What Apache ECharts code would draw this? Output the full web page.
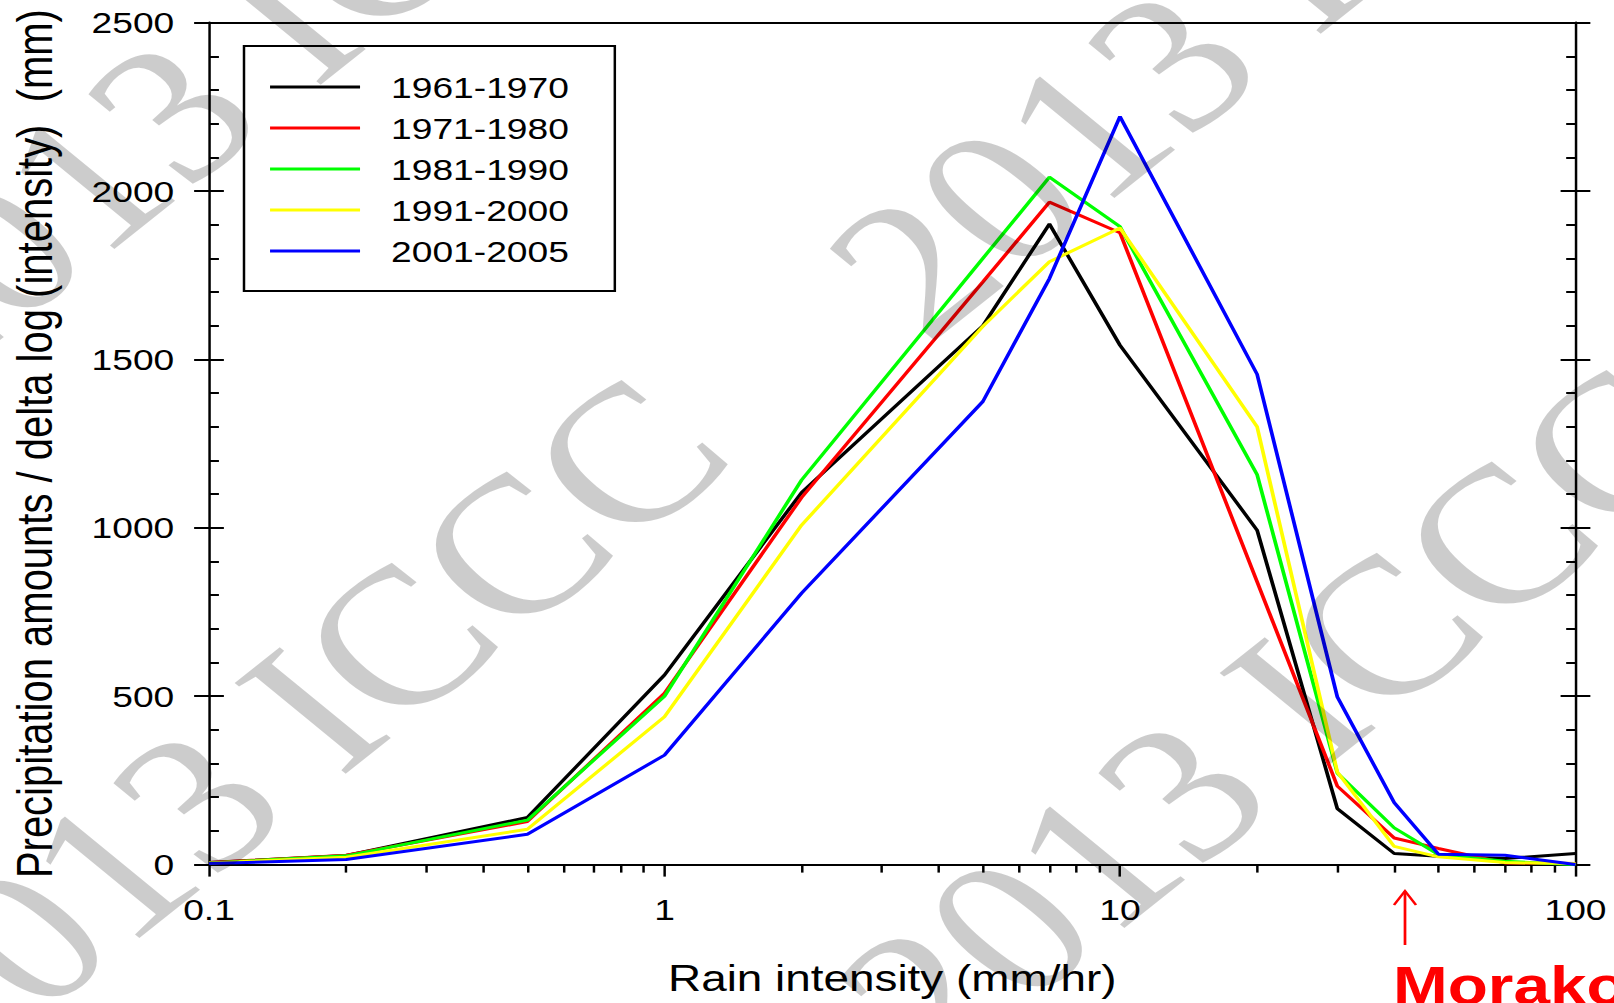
<!DOCTYPE html>
<html>
<head>
<meta charset="utf-8">
<title>Rain intensity distribution</title>
<script src="https://cdn.jsdelivr.net/npm/echarts@6/dist/echarts.min.js"></script>
<style>
  html, body { margin: 0; padding: 0; background: #fff; overflow: hidden; }
  /* the original figure is stretched sideways, so draw narrow and stretch */
  #main { width: 1301.6px; height: 1003px; transform: scaleX(1.24); transform-origin: 0 0; }
</style>
</head>
<body>
<div id="main"></div>
<script>
// rain intensity (mm/hr) and precipitation amount / delta log(intensity) (mm)
const intensity = [0.1, 0.2, 0.5, 1, 2, 5, 7, 10, 20, 30, 40, 50, 70, 100];
const d1961 = [6, 27, 140, 563, 1105, 1600, 1902, 1542, 993, 166, 33, 25, 18, 33];
const d1971 = [6, 28, 128, 509, 1090, 1730, 1967, 1876, 840, 233, 79, 48, 5, 3];
const d1981 = [5, 26, 132, 500, 1142, 1800, 2041, 1894, 1158, 272, 109, 30, 10, 0];
const d1991 = [5, 22, 105, 439, 1008, 1598, 1790, 1890, 1300, 275, 54, 23, 6, 3];
const d2001 = [3, 15, 90, 325, 806, 1375, 1740, 2221, 1456, 498, 184, 31, 28, 0];

const periods = ['1961-1970', '1971-1980', '1981-1990', '1991-2000', '2001-2005'];
const colors = ['#000000', '#ff0000', '#00ff00', '#ffff00', '#0000ff'];
const xTickLabels = ['0.1', '1', '10', '100'];
const xMinorMult = [2, 3, 4, 5, 6, 7, 8, 9];

const FONT = '"Liberation Sans", Arial, Helvetica, sans-serif';
const SERIF = '"Liberation Serif", "Times New Roman", serif';
const S = 1.24; // horizontal stretch of the page

// minor ticks of the log axis, in log10 space
const minorTicks = [];
[-1, 0, 1].forEach((p) => {
  xMinorMult.forEach((m) => minorTicks.push(Math.log10(m * Math.pow(10, p))));
});

const chart = echarts.init(document.getElementById('main'), null, { renderer: 'svg' });

const pair = (ys) => intensity.map((x, i) => [x, ys[i]]);
const seriesData = [d1961, d1971, d1981, d1991, d2001];

const watermark = (x, y) => ({
  type: 'text',
  x: x / S,
  y: y,
  rotation: 44.6 * Math.PI / 180,
  z: 100,
  silent: true,
  style: {
    text: '2013 ICCC',
    fontSize: 195,
    fontFamily: SERIF,
    fill: 'rgba(0,0,0,0.2)',
    align: 'left',
    verticalAlign: 'middle',
  },
});

const option = {
  animation: false,
  backgroundColor: '#fff',
  grid: {
    left: 209 / S,
    right: 39 / S,
    top: 22.6,
    bottom: 138.4,
    outerBoundsMode: 'none',
  },
  legend: {
    left: 244 / S,
    top: 46,
    orient: 'vertical',
    data: periods,
    icon: 'rect',
    itemWidth: 90 / S,
    itemHeight: 3,
    itemGap: 11,
    padding: [26, 37, 25, 21],
    borderColor: '#000',
    borderWidth: 2,
    textStyle: {
      fontFamily: FONT,
      fontSize: 30,
      lineHeight: 30,
      color: '#000',
      padding: [0, 0, 0, 20],
    },
  },
  xAxis: [
    {
      type: 'log',
      logBase: 10,
      min: 0.1,
      max: 100,
      position: 'bottom',
      name: 'Rain intensity (mm/hr)',
      nameLocation: 'middle',
      nameGap: 95,
      nameTextStyle: { fontFamily: FONT, fontSize: 37, color: '#000' },
      axisLine: { onZero: false, lineStyle: { color: '#000', width: 2 } },
      axisTick: { length: 12, lineStyle: { color: '#000', width: 2 } },
      axisLabel: {
        margin: 30,
        fontFamily: FONT,
        fontSize: 30,
        color: '#000',
        formatter: (v) => xTickLabels[Math.round(Math.log10(v)) + 1],
      },
      splitLine: { show: false },
    },
    {
      type: 'value',
      min: -1,
      max: 2,
      position: 'bottom',
      axisLine: { show: false, onZero: false },
      axisTick: {
        length: 8,
        customValues: minorTicks,
        lineStyle: { color: '#000', width: 2 },
      },
      axisLabel: { show: false },
      splitLine: { show: false },
    },
    {
      type: 'log',
      logBase: 10,
      min: 0.1,
      max: 100,
      position: 'top',
      axisLine: { onZero: false, lineStyle: { color: '#000', width: 2 } },
      axisTick: { show: false },
      axisLabel: { show: false },
      splitLine: { show: false },
    },
  ],
  yAxis: [
    {
      type: 'value',
      min: 0,
      max: 2500,
      interval: 500,
      position: 'left',
      name: 'Precipitation amounts / delta log (intensity)  (mm)',
      nameLocation: 'middle',
      nameGap: 120,
      nameTextStyle: { fontFamily: FONT, fontSize: 40, color: '#000' },
      axisLine: { show: true, onZero: false, lineStyle: { color: '#000', width: 2 } },
      axisTick: { inside: true, length: 12, lineStyle: { color: '#000', width: 2 } },
      minorTick: { show: true, splitNumber: 5, length: 8, lineStyle: { color: '#000', width: 2 } },
      axisLabel: {
        margin: 28,
        fontFamily: FONT,
        fontSize: 30,
        color: '#000',
        formatter: (v) => String(v),
      },
      splitLine: { show: false },
    },
    {
      type: 'value',
      min: 0,
      max: 2500,
      interval: 500,
      position: 'left',
      axisLine: { show: false, onZero: false },
      axisTick: { length: 12, lineStyle: { color: '#000', width: 2 } },
      axisLabel: { show: false },
      splitLine: { show: false },
    },
    {
      type: 'value',
      min: 0,
      max: 2500,
      interval: 500,
      position: 'right',
      axisLine: { show: true, onZero: false, lineStyle: { color: '#000', width: 2 } },
      axisTick: { inside: true, length: 12, lineStyle: { color: '#000', width: 2 } },
      minorTick: { show: true, splitNumber: 5, length: 7.5, lineStyle: { color: '#000', width: 2 } },
      axisLabel: { show: false },
      splitLine: { show: false },
    },
    {
      type: 'value',
      min: 0,
      max: 2500,
      interval: 500,
      position: 'right',
      axisLine: { show: false, onZero: false },
      axisTick: { length: 12, lineStyle: { color: '#000', width: 2 } },
      axisLabel: { show: false },
      splitLine: { show: false },
    },
  ],
  series: periods.map((name, i) => ({
    name: name,
    type: 'line',
    xAxisIndex: 0,
    yAxisIndex: 0,
    symbol: 'none',
    color: colors[i],
    lineStyle: { color: colors[i], width: 3 },
    data: pair(seriesData[i]),
  })),
  graphic: [
    // red arrow and label for Morakot
    {
      type: 'polyline',
      z: 50,
      shape: { points: [[1405 / S, 945], [1405 / S, 891]] },
      style: { stroke: '#ff0000', lineWidth: 2.2, fill: null },
    },
    {
      type: 'polyline',
      z: 50,
      shape: { points: [[1394 / S, 905], [1405 / S, 891], [1416 / S, 905]] },
      style: { stroke: '#ff0000', lineWidth: 2.2, fill: null },
    },
    {
      type: 'text',
      x: 1393 / S,
      y: 986,
      z: 50,
      style: {
        text: 'Morako',
        fontFamily: FONT,
        fontWeight: 'bold',
        fontSize: 53,
        fill: '#ff0000',
        align: 'left',
        verticalAlign: 'middle',
      },
    },
    watermark(-130, 351),
    watermark(-105, 1040),
    watermark(870, 300),
    watermark(880, 1030),
  ],
};

chart.setOption(option);
</script>
</body>
</html>
